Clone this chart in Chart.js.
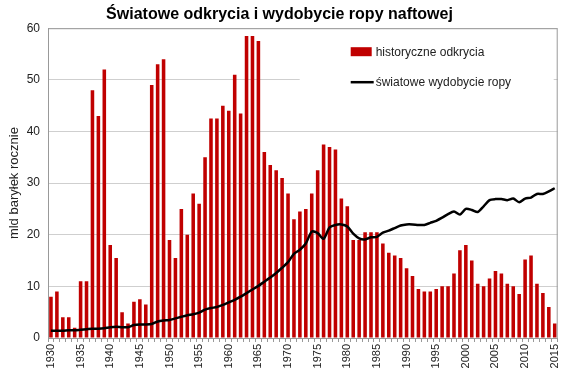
<!DOCTYPE html>
<html>
<head>
<meta charset="utf-8">
<script src="https://cdn.jsdelivr.net/npm/chart.js@4"></script>
<style>
  html, body { margin: 0; padding: 0; background: #fff; }
  #wrap { width: 570px; height: 382px; }
</style>
</head>
<body>
<div id="wrap"><canvas id="oilChart" width="570" height="382"></canvas></div>
<script>
const years = [];
for (let y = 1930; y <= 2015; y++) years.push(String(y));

// historical discoveries, bln barrels / year
const discoveries = [
    8, 9, 4, 4, 2, 11, 11, 48, 43, 52,
    18, 15.5, 5, 2.8, 7, 7.5, 6.5, 49, 53, 54,
    19, 15.5, 25, 20, 28, 26, 35, 42.5, 42.5, 45,
    44, 51, 43.5, 58.5, 58.5, 57.5, 36, 33.5, 32.5, 31,
    28, 23, 24.5, 25, 28, 32.5, 37.5, 37, 36.5, 27,
    25.5, 19, 19, 20.5, 20.5, 20.5, 18.3, 16.5, 16, 15.5,
    13.5, 12, 9.5, 9, 9, 9.5, 10, 10, 12.5, 17,
    18, 15, 10.5, 10, 11.5, 13, 12.5, 10.5, 10, 8.5,
    15.2, 16, 10.5, 8.7, 6, 2.8
];

// world oil production, bln barrels / year
const production = [
    1.4, 1.4, 1.4, 1.5, 1.5, 1.6, 1.7, 1.8, 1.8, 1.9,
    2.1, 2.2, 2.1, 2.1, 2.5, 2.6, 2.6, 2.7, 3.2, 3.4,
    3.5, 3.8, 4.1, 4.4, 4.6, 4.9, 5.5, 5.8, 6.0, 6.4,
    6.9, 7.4, 8.0, 8.7, 9.4, 10.1, 10.9, 11.7, 12.6, 13.6,
    14.7, 16.3, 17.1, 18.3, 20.6, 20.3, 19.2, 21.4, 21.9, 22.0,
    21.6, 20.2, 19.3, 19.1, 19.5, 19.6, 20.4, 20.8, 21.3, 21.8,
    22.0, 22.0, 21.9, 21.9, 22.3, 22.7, 23.3, 24.0, 24.5, 23.9,
    25.0, 24.8, 24.4, 25.5, 26.7, 26.9, 26.9, 26.7, 27.0, 26.3,
    27.0, 27.2, 27.9, 27.9, 28.4, 29.0
];

const yTicks = [0, 10, 20, 30, 40, 50, 60];

const barColor = '#c00000';

const ctx = document.getElementById('oilChart').getContext('2d');

// legend drawn inside the plot, top right
const insideLegend = {
    id: 'insideLegend',
    afterDatasetsDraw(chart) {
        const c = chart.ctx;
        const a = chart.chartArea;
        const x0 = a.right - 258;
        c.save();
        c.fillStyle = '#fff';
        c.fillRect(x0, a.top + 8, 254, 78);
        c.fillStyle = barColor;
        c.fillRect(x0 + 51, a.top + 19, 21, 9);
        c.strokeStyle = '#000';
        c.lineWidth = 2.5;
        c.beginPath();
        c.moveTo(x0 + 51, a.top + 54);
        c.lineTo(x0 + 74, a.top + 54);
        c.stroke();
        c.fillStyle = '#222';
        c.font = '12px "Liberation Sans", Arial, sans-serif';
        c.textBaseline = 'middle';
        c.fillText(chart.data.datasets[1].label, x0 + 76, a.top + 24);
        c.fillText(chart.data.datasets[0].label, x0 + 76, a.top + 54);
        c.restore();
    }
};

const config = {
    data: {
        labels: years,
        datasets: [{
            type: 'line',
            label: 'światowe wydobycie ropy',
            data: production,
            borderColor: '#000',
            borderWidth: 2.5,
            pointRadius: 0,
            tension: 0.25,
            order: 0
        }, {
            type: 'bar',
            label: 'historyczne odkrycia',
            data: discoveries,
            backgroundColor: barColor,
            barPercentage: 0.6,
            categoryPercentage: 1.0,
            order: 1
        }]
    },
    options: {
        responsive: false,
        animation: false,
        layout: { padding: { left: 0, right: 11, top: 0, bottom: 0 } },
        plugins: {
            title: {
                display: true,
                text: 'Światowe odkrycia i wydobycie ropy naftowej',
                color: '#000',
                font: { family: '"Liberation Sans", Arial, sans-serif', size: 16, weight: 'bold' },
                padding: { top: 5, bottom: 4 }
            },
            legend: { display: false },
            tooltip: { enabled: false }
        },
        scales: {
            x: {
                offset: true,
                grid: { display: true, drawOnChartArea: false, offset: true, tickLength: 4, color: '#999' },
                border: { color: '#999' },
                ticks: {
                    autoSkip: false,
                    maxRotation: 90,
                    minRotation: 90,
                    padding: 2,
                    color: '#222',
                    font: { family: '"Liberation Sans", Arial, sans-serif', size: 11 },
                    callback: function (v, i) {
                        return (i % 5 === 0) ? years[i] : '';
                    }
                },
                afterFit: function (s) { s.height = 44; }
            },
            y: {
                min: 0,
                max: 60,
                afterBuildTicks: function (s) { s.ticks = yTicks.map(v => ({ value: v })); },
                grid: { color: '#cfcfcf', drawTicks: false, lineWidth: 1 },
                border: { color: '#999' },
                ticks: {
                    padding: 8,
                    color: '#222',
                    font: { family: '"Liberation Sans", Arial, sans-serif', size: 12 }
                },
                title: {
                    display: true,
                    text: 'mld baryłek rocznie',
                    color: '#222',
                    padding: { top: 7, bottom: 0 },
                    font: { family: '"Liberation Sans", Arial, sans-serif', size: 13 }
                },
                afterFit: function (s) { s.width = 48; }
            }
        }
    },
    plugins: [insideLegend, {
        id: 'frame',
        afterDatasetsDraw(chart) {
            const c = chart.ctx, a = chart.chartArea;
            c.save();
            c.strokeStyle = '#999';
            c.lineWidth = 1;
            c.strokeRect(a.left + 0.5, a.top + 0.5, a.right - a.left - 1, a.bottom - a.top);
            c.restore();
        }
    }]
};

const oilChart = new Chart(ctx, config);
</script>
</body>
</html>
